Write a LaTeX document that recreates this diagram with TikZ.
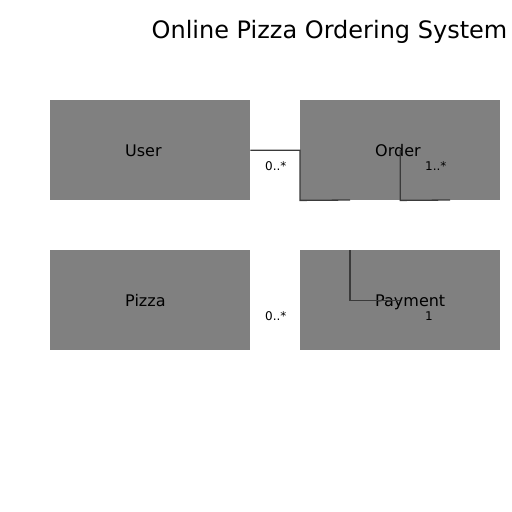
\documentclass[tikz,border=0pt]{standalone}
\usepackage{fontspec}
\setmainfont{DejaVu Sans}
\definecolor{boxgray}{HTML}{808080}
\definecolor{linegray}{HTML}{3A3A3A}
\begin{document}
\begin{tikzpicture}[x=1pt,y=-1pt,
  classbox/.style={fill=boxgray,draw=none,minimum width=200pt,minimum height=100pt,inner sep=0pt,anchor=north west},
  classname/.style={anchor=base west,inner sep=0pt,font=\fontsize{16}{19}\selectfont},
  mult/.style={anchor=base west,inner sep=0pt,font=\fontsize{12}{14}\selectfont},
  link/.style={draw=linegray,line width=1.3pt}]
\useasboundingbox (0,0) rectangle (512,512);
\node[font=\fontsize{24}{28}\selectfont,inner sep=0pt] (title) at (329.5,32) {Online Pizza Ordering System};
\node[classbox] (user) at (50,100) {};
\node[classbox] (order) at (300,100) {};
\node[classbox] (pizza) at (50,250) {};
\node[classbox] (payment) at (300,250) {};
\node[classname] (userlbl) at (125,156) {User};
\node[classname] (orderlbl) at (375,156) {Order};
\node[classname] (pizzalbl) at (125,306) {Pizza};
\node[classname] (paymentlbl) at (375,306) {Payment};
\coordinate (e1) at (350,200);
\coordinate (e2) at (450,200);
\coordinate (s3) at (350,250);
\draw[link] (user.east) -| (order.south west) -- (e1);
\draw[link] (order.center) -- (order.south) -- (e2);
\draw[link] (s3) |- (payment.center);
\node[mult] (m1) at (265,170) {0..*};
\node[mult] (m2) at (425,170) {1..*};
\node[mult] (m3) at (265,320) {0..*};
\node[mult] (m4) at (425,320) {1};
\end{tikzpicture}
\end{document}
